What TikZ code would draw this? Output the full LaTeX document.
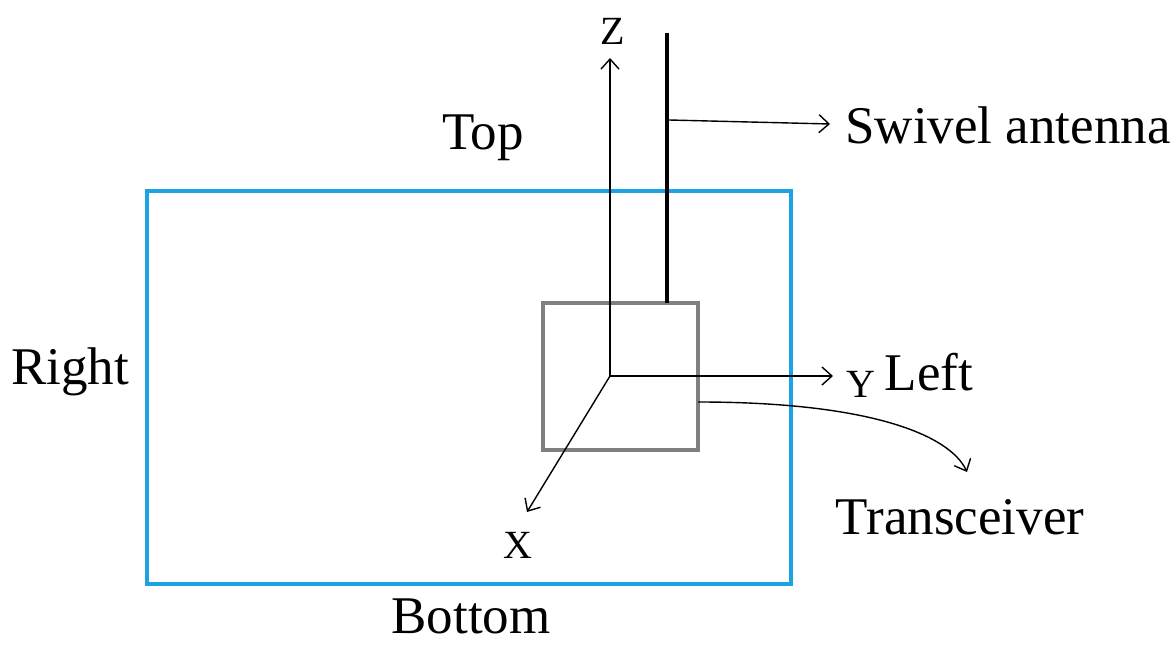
\documentclass[tikz,border=0pt]{standalone}
\usepackage{fontspec}
\setmainfont{Liberation Serif}
\definecolor{CaseBlue}{HTML}{1BA3E3}
\definecolor{UnitGray}{HTML}{808080}
\usetikzlibrary{positioning, arrows.meta, calc}

\begin{document}
\begin{tikzpicture}[
  x=0.5pt, y=-0.5pt,
  casebox/.style={draw=CaseBlue, line width=1.6pt, minimum width=322pt,
                  minimum height=196.5pt, inner sep=0pt},
  unit/.style={draw=UnitGray, line width=2pt, minimum width=77.5pt,
               minimum height=73.5pt, inner sep=0pt},
  axis/.style={-{Straight Barb[length=5pt, width=9pt]}, line width=0.7pt},
  arr/.style={-{Straight Barb[length=5pt, width=9pt]}, line width=0.7pt},
  lbl/.style={font=\fontsize{26.5}{31}\selectfont, inner sep=0pt},
  axlbl/.style={font=\fontsize{20}{24}\selectfont, inner sep=0pt},
]
  \useasboundingbox (0,0) rectangle (1173,646);

  % housing and transceiver
  \node[casebox] (case) at (469,387.5) {};
  \node[unit] (trx) at (620.5,376.5) {};

  % antenna
  \coordinate (antTop) at (667,33);
  \coordinate (antFoot) at (667,303);
  \draw[line width=2pt] (antFoot) -- (antTop);

  % side labels
  \node[lbl] (top)    at (483,138) {Top};
  \node[lbl] (right)  at (70,372)  {Right};
  \node[lbl] (bottom) at (471,616) {Bottom};
  \node[lbl] (left)   at (929,372) {Left};
  \node[lbl, anchor=west] (swivel) at (845,125) {Swivel antenna};
  \node[lbl] (trxlbl) at (960,517) {Transceiver};

  % axes
  \coordinate (o) at (610,376);
  \coordinate (zEnd) at (610,58);
  \coordinate (yEnd) at (833,376);
  \coordinate (xEnd) at (527,512);
  \node[axlbl] (zlbl) at (613,31)  {Z};
  \node[axlbl] (ylbl) at (861,384) {Y};
  \node[axlbl] (xlbl) at (518,545) {X};
  \draw[axis] (o) -- (zEnd);
  \draw[axis] (o) -- (yEnd);
  \draw[axis] (o) -- (xEnd);

  % pointers
  \coordinate (antMid) at (669,120);
  \coordinate (swEnd) at (830,124);
  \draw[arr] (antMid) -- (swEnd);
  \coordinate (trxOut) at (698,402);
  \coordinate (trxEnd) at (967,472);
  \draw[arr] (trxOut) .. controls (870,402) and (950,435) .. (trxEnd);
\end{tikzpicture}
\end{document}
